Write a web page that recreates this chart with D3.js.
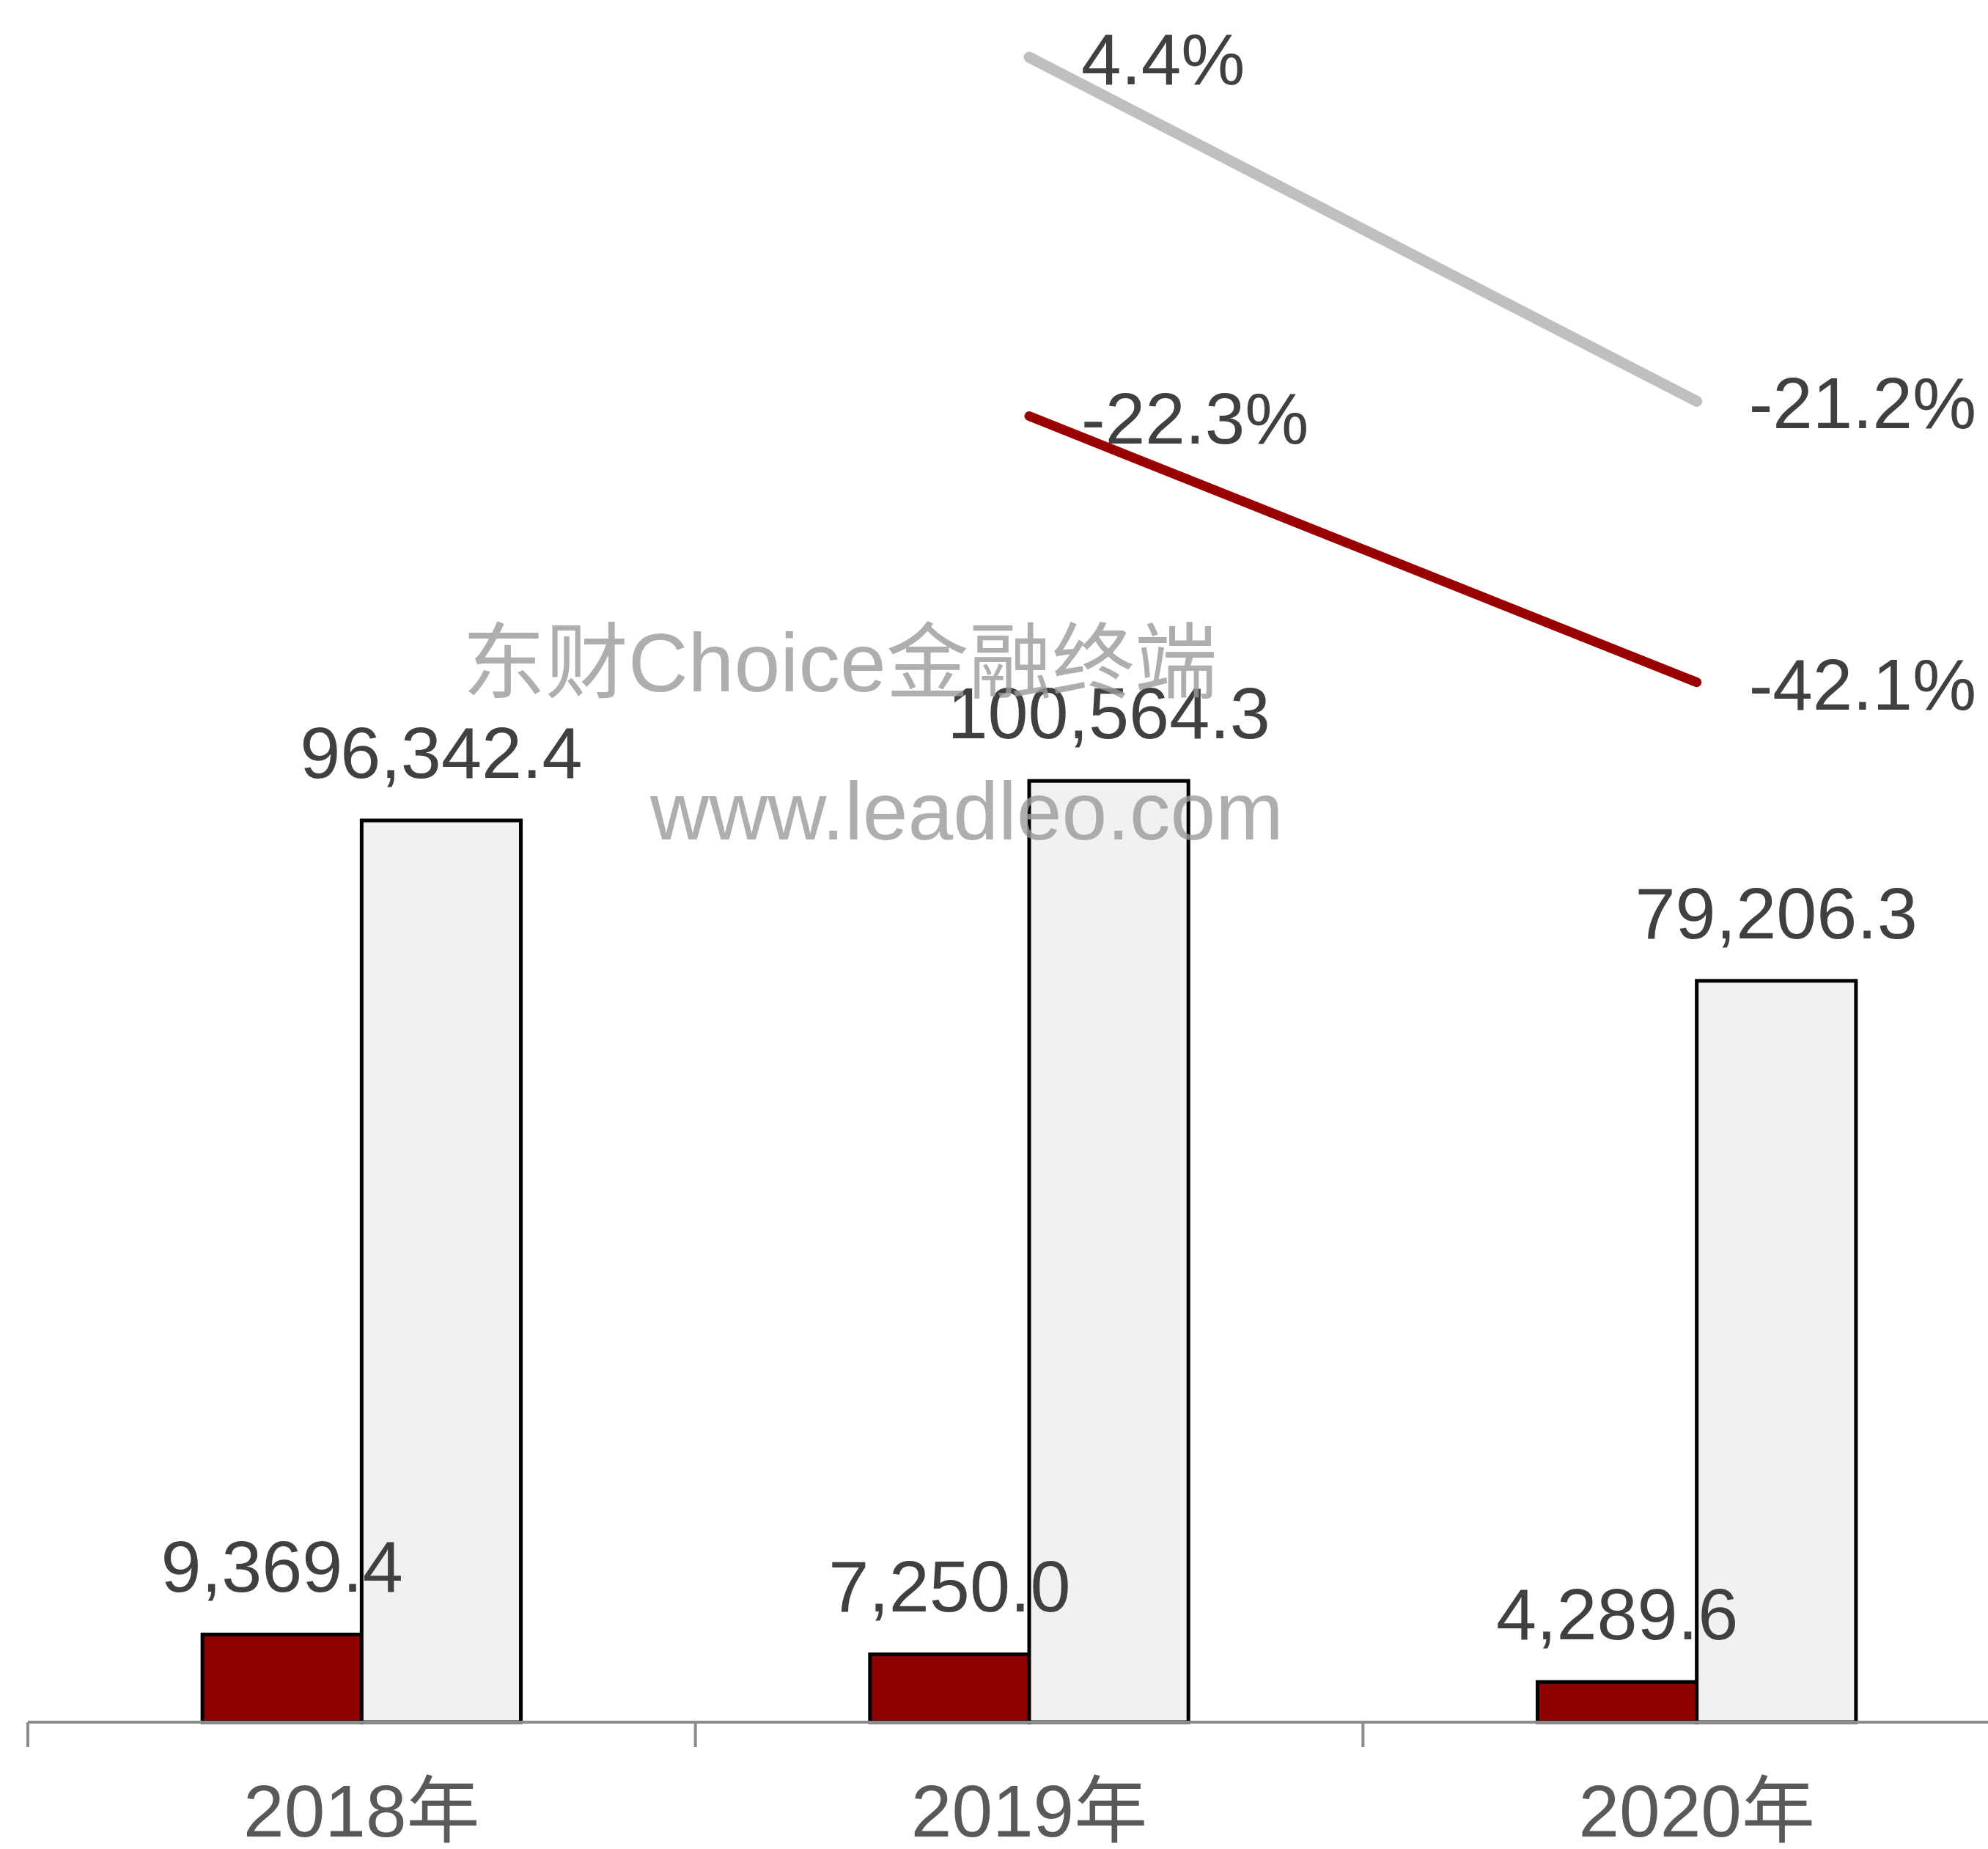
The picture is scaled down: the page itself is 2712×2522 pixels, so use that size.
<!DOCTYPE html>
<html>
<head>
<meta charset="utf-8">
<script src="https://cdn.jsdelivr.net/npm/d3@7"></script>
<style>
  body { margin: 0; background: #fff; }
  text { font-family: "Liberation Sans", Arial, "Noto Sans CJK SC", sans-serif; }
</style>
</head>
<body>
<svg></svg>
<script>
var width  = 2712;
var height = 2522;

// data
var years       = ['2018年', '2019年', '2020年'];
var seriesNames = ['a', 'b'];
var redValues   = [9369.4, 7250.0, 4289.6];
var greyValues  = [96342.4, 100564.3, 79206.3];
var redGrowth   = [null, -22.3, -42.1];
var greyGrowth  = [null, 4.4, -21.2];

var baseY = 2349;

var svg = d3.select('svg')
        .attr('width', width)
        .attr('height', height);

var x0 = d3.scaleBand()
                .domain(years)
                .range([38, 2770]);

var bw = x0.bandwidth();

var x1 = d3.scaleBand()
                .domain(seriesNames)
                .range([bw * 0.2615, bw * 0.7385]);

var yBar = d3.scaleLinear()
                .domain([0, 184000])
                .range([baseY, 0]);

var yPct = d3.scaleLinear()
                .domain([-120, 8.6])
                .range([2359, 1]);

var barData = [];
years.forEach(function(yr, i) {
    barData.push({year: yr, key: 'a', value: redValues[i]});
    barData.push({year: yr, key: 'b', value: greyValues[i]});
});

var fmt = d3.format(',.1f');

// bars
svg.append('g')
    .selectAll('rect')
    .data(barData)
    .enter()
    .append('rect')
        .attr('x', d => x0(d.year) + x1(d.key))
        .attr('y', d => yBar(d.value))
        .attr('width', x1.bandwidth())
        .attr('height', d => baseY - yBar(d.value))
        .attr('fill', d => d.key === 'a' ? '#8e0000' : '#f1f1f1')
        .attr('stroke', '#000')
        .attr('stroke-width', 5);

// bar value labels
svg.append('g')
    .selectAll('text')
    .data(barData)
    .enter()
    .append('text')
        .attr('x', d => x0(d.year) + x1(d.key) + x1.bandwidth() / 2)
        .attr('y', d => yBar(d.value) - 58)
        .attr('text-anchor', 'middle')
        .attr('font-size', 99)
        .attr('fill', '#404040')
        .text(d => fmt(d.value));

// x axis
var axisG = svg.append('g')
        .attr('transform', 'translate(0,' + baseY + ')');

axisG.append('line')
        .attr('x1', 38)
        .attr('x2', width)
        .attr('stroke', '#8c8c8c')
        .attr('stroke-width', 4);

axisG.selectAll('.tick-mark')
    .data(years.concat(['end']))
    .enter()
    .append('line')
        .attr('class', 'tick-mark')
        .attr('x1', (d, i) => x0.range()[0] + i * bw)
        .attr('x2', (d, i) => x0.range()[0] + i * bw)
        .attr('y1', 0)
        .attr('y2', 34)
        .attr('stroke', '#8c8c8c')
        .attr('stroke-width', 4);

axisG.selectAll('.cat')
    .data(years)
    .enter()
    .append('text')
        .attr('class', 'cat')
        .attr('x', d => x0(d) + bw / 2)
        .attr('y', 156)
        .attr('text-anchor', 'middle')
        .attr('font-size', 100)
        .attr('fill', '#595959')
        .text(d => d);

// growth lines
function growthPoints(vals) {
    return years.map((yr, i) => ({year: yr, v: vals[i]}))
                .filter(d => d.v !== null);
}

var line = d3.line()
        .x(d => x0(d.year) + bw / 2)
        .y(d => yPct(d.v));

[
    {vals: greyGrowth, color: '#bfbfbf', w: 15},
    {vals: redGrowth,  color: '#990000', w: 13}
].forEach(function(s) {
    var pts = growthPoints(s.vals);
    svg.append('path')
        .datum(pts)
        .attr('d', line)
        .attr('fill', 'none')
        .attr('stroke', s.color)
        .attr('stroke-width', s.w)
        .attr('stroke-linecap', 'round');

    svg.append('g')
        .selectAll('text')
        .data(pts)
        .enter()
        .append('text')
            .attr('x', d => x0(d.year) + bw / 2 + 71)
            .attr('y', d => yPct(d.v) + 37)
            .attr('font-size', 98)
            .attr('fill', '#404040')
            .text(d => d.v.toFixed(1) + '%');
});

// watermark
svg.append('text')
        .attr('x', 631)
        .attr('y', 943)
        .attr('font-size', 113)
        .attr('fill', '#9a9a9a')
        .attr('opacity', 0.8)
        .text('东财Choice金融终端');

svg.append('text')
        .attr('x', 887)
        .attr('y', 1145)
        .attr('font-size', 111)
        .attr('fill', '#9a9a9a')
        .attr('opacity', 0.8)
        .text('www.leadleo.com');
</script>
</body>
</html>
